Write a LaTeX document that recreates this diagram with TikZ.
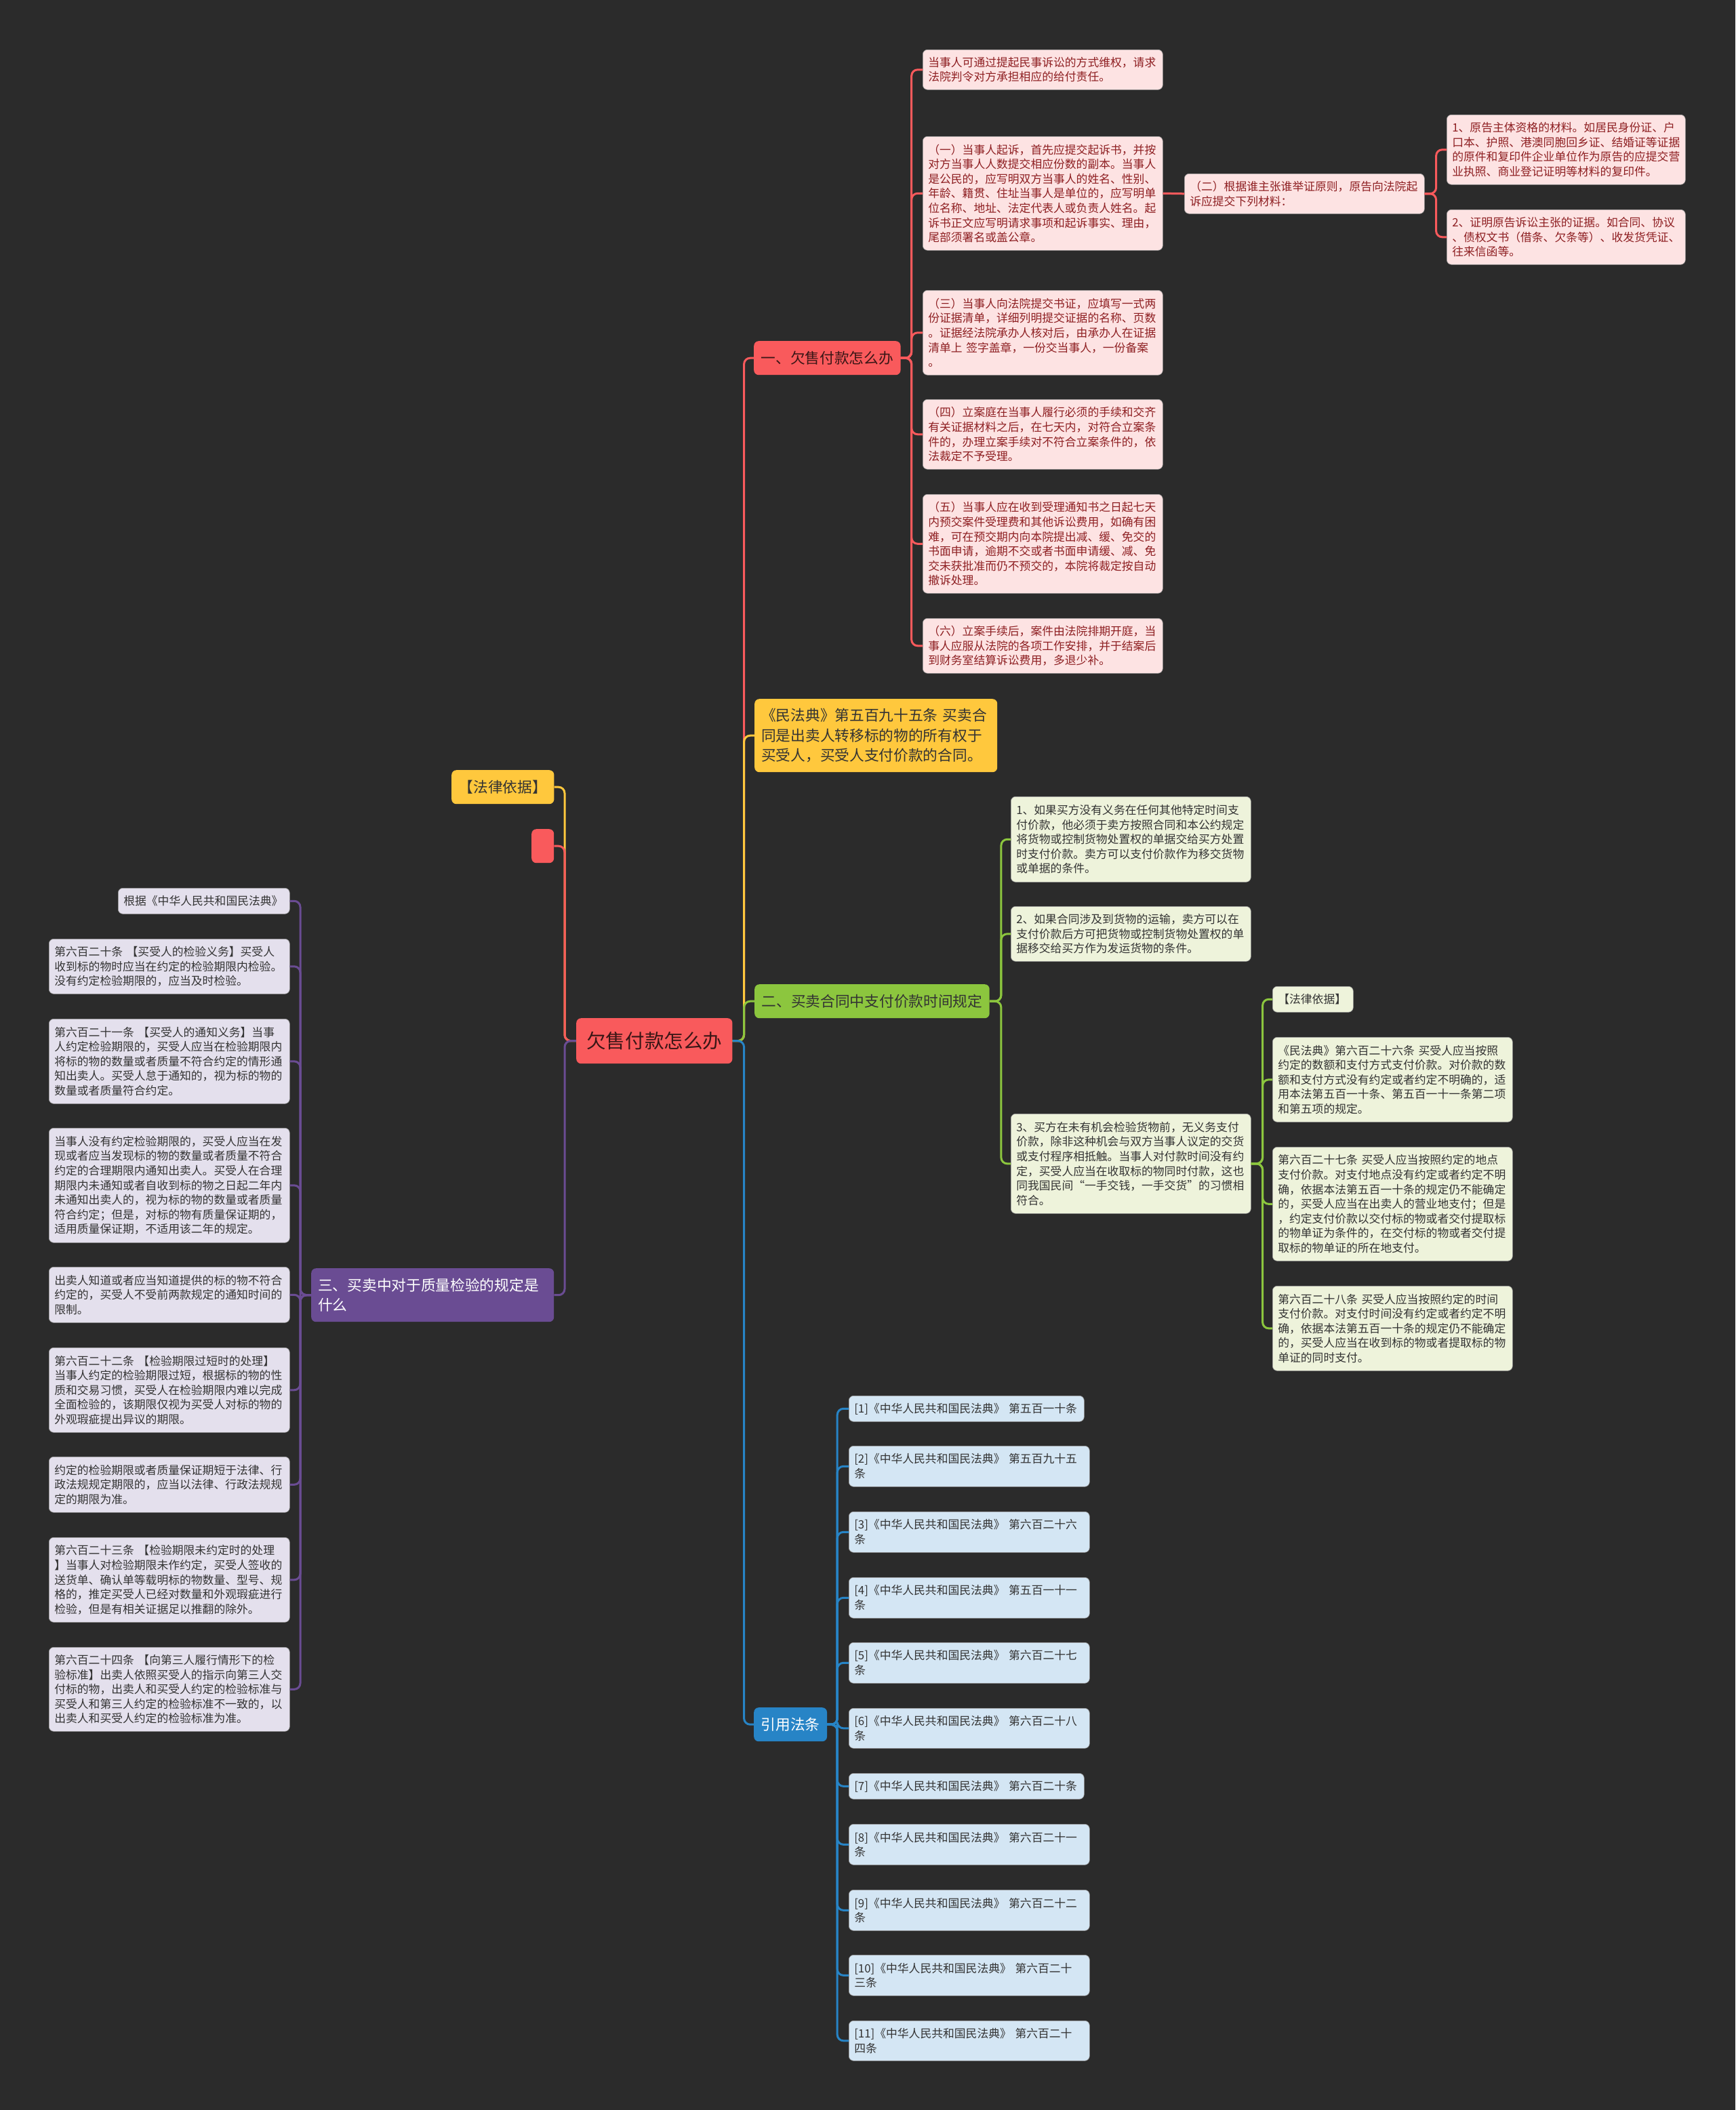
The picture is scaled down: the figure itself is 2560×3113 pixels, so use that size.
\documentclass[tikz,border=0pt]{standalone}
\usepackage{fontspec}
\setmainfont{Noto Sans CJK SC}
\usepackage{tikz}
\usetikzlibrary{positioning}
\definecolor{mmbg}{HTML}{2B2B2B}
\definecolor{mmred}{HTML}{F95A5C}
\definecolor{mmredlt}{HTML}{FDE3E3}
\definecolor{mmredtx}{HTML}{8E1F22}
\definecolor{mmyel}{HTML}{FFC83D}
\definecolor{mmgrn}{HTML}{8CC63E}
\definecolor{mmgrnlt}{HTML}{EEF3DB}
\definecolor{mmpur}{HTML}{6A4C93}
\definecolor{mmpurlt}{HTML}{E4E0ED}
\definecolor{mmblu}{HTML}{2784C6}
\definecolor{mmblult}{HTML}{D4E6F4}
\definecolor{mmink}{HTML}{333333}
\definecolor{mmdark}{HTML}{3A1616}
\newcommand\leafsize{\fontsize{16.8pt}{21.6pt}\selectfont}
\newcommand\topicsize{\fontsize{21.7pt}{29.5pt}\selectfont}
\newcommand\rootsize{\fontsize{28.6pt}{34pt}\selectfont}
\tikzset{
  mmbox/.style={anchor=north west, rounded corners=7pt, inner ysep=0pt, align=left},
  leaf/.style={mmbox, inner xsep=8pt, text width=338pt, font=\leafsize,
    draw=black!40, line width=0.6pt},
  redleaf/.style={leaf, fill=mmredlt, text=mmredtx},
  grnleaf/.style={leaf, fill=mmgrnlt, text=mmink},
  purleaf/.style={leaf, text width=339pt, fill=mmpurlt, text=mmink},
  bluleaf/.style={leaf, text width=339pt, fill=mmblult, text=mmink},
  topic/.style={mmbox, inner xsep=10.5pt, font=\topicsize, minimum height=50pt},
  rootbox/.style={mmbox, fill=mmred, text=mmdark, inner xsep=15pt,
    font=\rootsize, minimum height=67pt},
  link/.style={line width=3pt, rounded corners=9pt},
  rlink/.style={link, draw=mmred},
  ylink/.style={link, draw=mmyel},
  glink/.style={link, draw=mmgrn},
  plink/.style={link, draw=mmpur},
  blink/.style={link, draw=mmblu}
}
\begin{document}
\begin{tikzpicture}[x=1pt, y=-1pt]
  \fill[mmbg] (0,0) rectangle (2560,3113);

  % centre and main topics
  \node[rootbox] (root) at (850,1502) {欠售付款怎么办};
  \node[topic, fill=mmred, text=mmdark] (b1) at (1112,503) {一、欠售付款怎么办};
  \node[topic, fill=mmyel, text=black!80, text width=338pt, inner xsep=10pt,
    minimum height=108pt] (civ) at (1113,1031)
    {《民法典》第五百九十五条~买卖合\\同是出卖人转移标的物的所有权于\\买受人，买受人支付价款的合同。};
  \node[topic, fill=mmgrn, text=black!80] (b2) at (1113,1452) {二、买卖合同中支付价款时间规定};
  \node[topic, fill=mmblu, text=white] (b4) at (1112,2519) {引用法条};
  \node[topic, fill=mmyel, text=black!80] (law) at (666,1136) {【法律依据】};
  \node[topic, fill=mmred, minimum width=33pt] (blank) at (784,1223) {};
  \node[topic, fill=mmpur, text=white, text width=338pt, inner xsep=10pt,
    minimum height=79pt] (b3) at (459,1871)
    {三、买卖中对于质量检验的规定是\\什么};

  % branch one
  \node[redleaf, minimum height=59pt] (a1) at (1361,73)
    {当事人可通过提起民事诉讼的方式维权，请求\\法院判令对方承担相应的给付责任。};
  \node[redleaf, minimum height=168pt] (a2) at (1361,201)
    {（一）当事人起诉，首先应提交起诉书，并按\\对方当事人人数提交相应份数的副本。当事人\\是公民的，应写明双方当事人的姓名、性别、\\年龄、籍贯、住址当事人是单位的，应写明单\\位名称、地址、法定代表人或负责人姓名。起\\诉书正文应写明请求事项和起诉事实、理由，\\尾部须署名或盖公章。};
  \node[redleaf, minimum height=125pt] (a3) at (1361,428)
    {（三）当事人向法院提交书证，应填写一式两\\份证据清单，详细列明提交证据的名称、页数\\。证据经法院承办人核对后，由承办人在证据\\清单上~签字盖章，一份交当事人，一份备案\\。};
  \node[redleaf, minimum height=103pt] (a4) at (1361,589)
    {（四）立案庭在当事人履行必须的手续和交齐\\有关证据材料之后，在七天内，对符合立案条\\件的，办理立案手续对不符合立案条件的，依\\法裁定不予受理。};
  \node[redleaf, minimum height=146pt] (a5) at (1361,729)
    {（五）当事人应在收到受理通知书之日起七天\\内预交案件受理费和其他诉讼费用，如确有困\\难，可在预交期内向本院提出减、缓、免交的\\书面申请，逾期不交或者书面申请缓、减、免\\交未获批准而仍不预交的，本院将裁定按自动\\撤诉处理。};
  \node[redleaf, minimum height=81pt] (a6) at (1361,912)
    {（六）立案手续后，案件由法院排期开庭，当\\事人应服从法院的各项工作安排，并于结案后\\到财务室结算诉讼费用，多退少补。};
  \node[redleaf, minimum height=59pt] (bb) at (1747,256)
    {（二）根据谁主张谁举证原则，原告向法院起\\诉应提交下列材料：};
  \node[redleaf, text width=336pt, minimum height=103pt] (c1) at (2134,169)
    {1、原告主体资格的材料。如居民身份证、户\\口本、护照、港澳同胞回乡证、结婚证等证据\\的原件和复印件企业单位作为原告的应提交营\\业执照、商业登记证明等材料的复印件。};
  \node[redleaf, text width=336pt, minimum height=81pt] (c2) at (2134,309)
    {2、证明原告诉讼主张的证据。如合同、协议\\、债权文书（借条、欠条等）、收发货凭证、\\往来信函等。};

  % branch two
  \node[grnleaf, minimum height=126pt] (g1) at (1491,1175)
    {1、如果买方没有义务在任何其他特定时间支\\付价款，他必须于卖方按照合同和本公约规定\\将货物或控制货物处置权的单据交给买方处置\\时支付价款。卖方可以支付价款作为移交货物\\或单据的条件。};
  \node[grnleaf, minimum height=81pt] (g2) at (1491,1337)
    {2、如果合同涉及到货物的运输，卖方可以在\\支付价款后方可把货物或控制货物处置权的单\\据移交给买方作为发运货物的条件。};
  \node[grnleaf, minimum height=147pt] (g3) at (1491,1643)
    {3、买方在未有机会检验货物前，无义务支付\\价款，除非这种机会与双方当事人议定的交货\\或支付程序相抵触。当事人对付款时间没有约\\定，买受人应当在收取标的物同时付款，这也\\同我国民间“一手交钱，一手交货”的习惯相\\符合。};
  \node[grnleaf, text width=103pt, minimum height=38pt] (h0) at (1877,1455) {【法律依据】};
  \node[grnleaf, minimum height=125pt] (h1) at (1877,1530)
    {《民法典》第六百二十六条~买受人应当按照\\约定的数额和支付方式支付价款。对价款的数\\额和支付方式没有约定或者约定不明确的，适\\用本法第五百一十条、第五百一十一条第二项\\和第五项的规定。};
  \node[grnleaf, minimum height=168pt] (h2) at (1877,1692)
    {第六百二十七条~买受人应当按照约定的地点\\支付价款。对支付地点没有约定或者约定不明\\确，依据本法第五百一十条的规定仍不能确定\\的，买受人应当在出卖人的营业地支付；但是\\，约定支付价款以交付标的物或者交付提取标\\的物单证为条件的，在交付标的物或者交付提\\取标的物单证的所在地支付。};
  \node[grnleaf, minimum height=125pt] (h3) at (1877,1897)
    {第六百二十八条~买受人应当按照约定的时间\\支付价款。对支付时间没有约定或者约定不明\\确，依据本法第五百一十条的规定仍不能确定\\的，买受人应当在收到标的物或者提取标的物\\单证的同时支付。};

  % branch three
  \node[purleaf, text width=237pt, minimum height=38pt] (p0) at (174,1310) {根据《中华人民共和国民法典》};
  \node[purleaf, minimum height=81pt] (p1) at (72,1385)
    {第六百二十条~【买受人的检验义务】买受人\\收到标的物时应当在约定的检验期限内检验。\\没有约定检验期限的，应当及时检验。};
  \node[purleaf, minimum height=125pt] (p2) at (72,1503)
    {第六百二十一条~【买受人的通知义务】当事\\人约定检验期限的，买受人应当在检验期限内\\将标的物的数量或者质量不符合约定的情形通\\知出卖人。买受人怠于通知的，视为标的物的\\数量或者质量符合约定。};
  \node[purleaf, minimum height=169pt] (p3) at (72,1664)
    {当事人没有约定检验期限的，买受人应当在发\\现或者应当发现标的物的数量或者质量不符合\\约定的合理期限内通知出卖人。买受人在合理\\期限内未通知或者自收到标的物之日起二年内\\未通知出卖人的，视为标的物的数量或者质量\\符合约定；但是，对标的物有质量保证期的，\\适用质量保证期，不适用该二年的规定。};
  \node[purleaf, minimum height=82pt] (p4) at (72,1869)
    {出卖人知道或者应当知道提供的标的物不符合\\约定的，买受人不受前两款规定的通知时间的\\限制。};
  \node[purleaf, minimum height=125pt] (p5) at (72,1988)
    {第六百二十二条~【检验期限过短时的处理】\\当事人约定的检验期限过短，根据标的物的性\\质和交易习惯，买受人在检验期限内难以完成\\全面检验的，该期限仅视为买受人对标的物的\\外观瑕疵提出异议的期限。};
  \node[purleaf, minimum height=82pt] (p6) at (72,2149)
    {约定的检验期限或者质量保证期短于法律、行\\政法规规定期限的，应当以法律、行政法规规\\定的期限为准。};
  \node[purleaf, minimum height=125pt] (p7) at (72,2268)
    {第六百二十三条~【检验期限未约定时的处理\\】当事人对检验期限未作约定，买受人签收的\\送货单、确认单等载明标的物数量、型号、规\\格的，推定买受人已经对数量和外观瑕疵进行\\检验，但是有相关证据足以推翻的除外。};
  \node[purleaf, minimum height=124pt] (p8) at (72,2430)
    {第六百二十四条~【向第三人履行情形下的检\\验标准】出卖人依照买受人的指示向第三人交\\付标的物，出卖人和买受人约定的检验标准与\\买受人和第三人约定的检验标准不一致的，以\\出卖人和买受人约定的检验标准为准。};

  % cited articles
  \node[bluleaf, text width=331pt, minimum height=38pt] (r1) at (1252,2059) {[1]《中华人民共和国民法典》~第五百一十条};
  \node[bluleaf, minimum height=60pt] (r2) at (1252,2133) {[2]《中华人民共和国民法典》~第五百九十五\\条};
  \node[bluleaf, minimum height=60pt] (r3) at (1252,2230) {[3]《中华人民共和国民法典》~第六百二十六\\条};
  \node[bluleaf, minimum height=60pt] (r4) at (1252,2327) {[4]《中华人民共和国民法典》~第五百一十一\\条};
  \node[bluleaf, minimum height=60pt] (r5) at (1252,2423) {[5]《中华人民共和国民法典》~第六百二十七\\条};
  \node[bluleaf, minimum height=59pt] (r6) at (1252,2520) {[6]《中华人民共和国民法典》~第六百二十八\\条};
  \node[bluleaf, text width=331pt, minimum height=38pt] (r7) at (1252,2616) {[7]《中华人民共和国民法典》~第六百二十条};
  \node[bluleaf, minimum height=60pt] (r8) at (1252,2691) {[8]《中华人民共和国民法典》~第六百二十一\\条};
  \node[bluleaf, minimum height=60pt] (r9) at (1252,2788) {[9]《中华人民共和国民法典》~第六百二十二\\条};
  \node[bluleaf, minimum height=60pt] (r10) at (1252,2884) {[10]《中华人民共和国民法典》~第六百二十\\三条};
  \node[bluleaf, minimum height=59pt] (r11) at (1252,2981) {[11]《中华人民共和国民法典》~第六百二十\\四条};

  % connectors
  \draw[rlink] (root.east) -- ++(17,0) |- (b1.west);
  \draw[ylink] (root.east) -- ++(17,0) |- (civ.west);
  \draw[glink] (root.east) -- ++(17,0) |- (b2.west);
  \draw[blink] (root.east) -- ++(17,0) |- (b4.west);
  \draw[ylink] (root.west) -- ++(-17,0) |- (law.east);
  \draw[rlink] (root.west) -- ++(-17,0) |- (blank.east);
  \draw[plink] (root.west) -- ++(-17,0) |- (b3.east);
  \foreach \i in {1,...,6}
    \draw[rlink] (b1.east) -- ++(16,0) |- (a\i.west);
  \draw[rlink] (a2.east) -- (bb.west);
  \foreach \i in {1,2}
    \draw[rlink] (bb.east) -- ++(17,0) |- (c\i.west);
  \foreach \i in {1,2,3}
    \draw[glink] (b2.east) -- ++(17,0) |- (g\i.west);
  \foreach \i in {0,...,3}
    \draw[glink] (g3.east) -- ++(17,0) |- (h\i.west);
  \foreach \i in {0,...,8}
    \draw[plink] (b3.west) -- ++(-16,0) |- (p\i.east);
  \foreach \i in {1,...,11}
    \draw[blink] (b4.east) -- ++(15,0) |- (r\i.west);
\end{tikzpicture}
\end{document}
